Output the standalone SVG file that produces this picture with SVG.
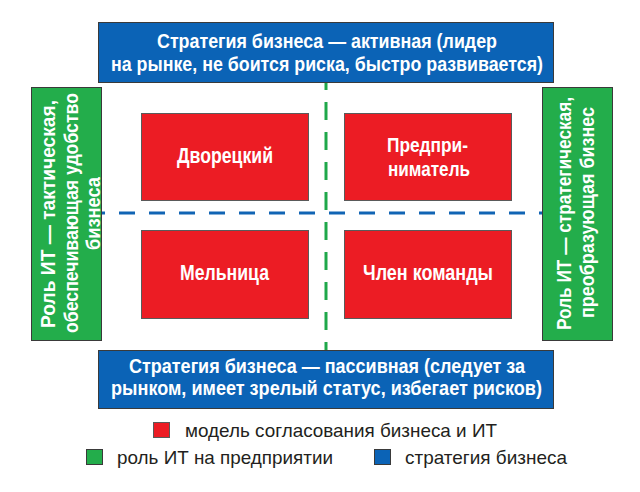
<svg xmlns="http://www.w3.org/2000/svg" width="640" height="492" viewBox="0 0 640 492">
<style>
.blue{fill:#0b63b6;stroke:#3a3a3a;stroke-width:1}
.green{fill:#23ad4b;stroke:#3a3a3a;stroke-width:1}
.red{fill:#ec1c24;stroke:#5a5a5a;stroke-width:1}
.t{font-family:"Liberation Sans",Arial,sans-serif;font-weight:bold;fill:#fff;font-size:21px}
.rt{font-family:"Liberation Sans",Arial,sans-serif;font-weight:bold;fill:#fff;font-size:22px}
.rt2{font-family:"Liberation Sans",Arial,sans-serif;font-weight:bold;fill:#fff;font-size:20.5px}
.lg{font-family:"Liberation Sans",Arial,sans-serif;fill:#231f20;font-size:19px}
</style>
<rect width="640" height="492" fill="#fff"/>
<g id="connectors">
<line x1="326" y1="82" x2="326" y2="350" stroke="#1fa84a" stroke-width="3" stroke-dasharray="18 12" stroke-dashoffset="10"/>
<line x1="102" y1="213" x2="542" y2="213" stroke="#1064b4" stroke-width="3" stroke-dasharray="16 14" stroke-dashoffset="-17"/>
</g>
<g id="top-strategy">
<rect class="blue" x="98.5" y="22.5" width="455" height="60"/>
<text class="t" x="157" y="48" textLength="340" lengthAdjust="spacingAndGlyphs">Стратегия бизнеса — активная (лидер</text>
<text class="t" x="111" y="71" textLength="432" lengthAdjust="spacingAndGlyphs">на рынке, не боится риска, быстро развивается)</text>
</g>
<g id="bottom-strategy">
<rect class="blue" x="98.5" y="350.5" width="455" height="58"/>
<text class="t" x="129" y="373" textLength="396" lengthAdjust="spacingAndGlyphs">Стратегия бизнеса — пассивная (следует за</text>
<text class="t" x="111" y="395" textLength="431" lengthAdjust="spacingAndGlyphs">рынком, имеет зрелый статус, избегает рисков)</text>
</g>
<g id="left-role">
<rect class="green" x="31.5" y="87.5" width="70" height="253"/>
<text class="t" transform="translate(55,328) rotate(-90)" textLength="228" lengthAdjust="spacingAndGlyphs">Роль ИТ — тактическая,</text>
<text class="t" transform="translate(78,333) rotate(-90)" textLength="240" lengthAdjust="spacingAndGlyphs">обеспечивающая удобство</text>
<text class="t" transform="translate(100,250) rotate(-90)" textLength="73" lengthAdjust="spacingAndGlyphs">бизнеса</text>
</g>
<g id="right-role">
<rect class="green" x="542.5" y="87.5" width="70" height="253"/>
<text class="t" transform="translate(571,330) rotate(-90)" textLength="233" lengthAdjust="spacingAndGlyphs">Роль ИТ — стратегическая,</text>
<text class="t" transform="translate(594,318) rotate(-90)" textLength="211" lengthAdjust="spacingAndGlyphs">преобразующая бизнес</text>
</g>
<g id="dvoretsky">
<rect class="red" x="141.5" y="113.5" width="167" height="87"/>
<text class="rt" x="177" y="163" textLength="96" lengthAdjust="spacingAndGlyphs">Дворецкий</text>
</g>
<g id="predprinimatel">
<rect class="red" x="344.5" y="113.5" width="167" height="87"/>
<text class="rt2" x="387" y="152" textLength="81" lengthAdjust="spacingAndGlyphs">Предпри-</text>
<text class="rt2" x="388" y="175.5" textLength="82" lengthAdjust="spacingAndGlyphs">ниматель</text>
</g>
<g id="melnitsa">
<rect class="red" x="141.5" y="230.5" width="167" height="88"/>
<text class="rt" x="180" y="280" textLength="89" lengthAdjust="spacingAndGlyphs">Мельница</text>
</g>
<g id="chlen-komandy">
<rect class="red" x="344.5" y="230.5" width="167" height="88"/>
<text class="rt" x="363" y="280" textLength="130" lengthAdjust="spacingAndGlyphs">Член команды</text>
</g>
<g id="legend">
<rect class="red" x="153.5" y="422.5" width="16" height="15"/>
<text class="lg" x="185" y="437" textLength="312" lengthAdjust="spacingAndGlyphs">модель согласования бизнеса и ИТ</text>
<rect class="green" x="86.5" y="449.5" width="16" height="15"/>
<text class="lg" x="117" y="464" textLength="216" lengthAdjust="spacingAndGlyphs">роль ИТ на предприятии</text>
<rect class="blue" x="374.5" y="449.5" width="16" height="15"/>
<text class="lg" x="405" y="464" textLength="162" lengthAdjust="spacingAndGlyphs">стратегия бизнеса</text>
</g>
</svg>
